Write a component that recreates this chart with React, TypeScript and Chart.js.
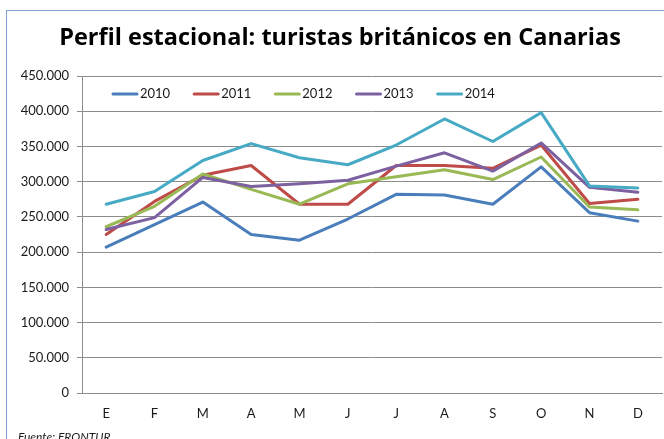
import React, { useEffect, useRef } from 'react';
import { Chart, registerables } from 'chart.js';

Chart.register(...registerables);

const months = ['E', 'F', 'M', 'A', 'M', 'J', 'J', 'A', 'S', 'O', 'N', 'D'];
const years = ['2010', '2011', '2012', '2013', '2014'];
const s2010 = [207000, 239000, 271000, 225000, 217000, 247000, 282000, 281000, 268000, 321000, 256000, 244000];
const s2011 = [225000, 272000, 309000, 323000, 268000, 268000, 323000, 323000, 319000, 352000, 269000, 275000];
const s2012 = [236000, 265000, 311000, 289000, 268000, 297000, 307000, 317000, 303000, 335000, 264000, 260000];
const s2013 = [232000, 249000, 306000, 293000, 297000, 302000, 322000, 341000, 315000, 355000, 292000, 285000];
const s2014 = [268000, 286000, 330000, 354000, 334000, 324000, 352000, 389000, 357000, 398000, 294000, 291000];
const seriesValues = [s2010, s2011, s2012, s2013, s2014];
const colors = ['#4A7EBB', '#BE4B48', '#98B954', '#7D60A0', '#46AAC5'];
const yMin = 0;
const yMax = 450000;
const yStep = 50000;
const titleText = 'Perfil estacional: turistas británicos en Canarias';
const sourceText = 'Fuente: FRONTUR';

const fmt = (v: number) => {
  const s = Math.round(v).toString();
  return s.replace(/\B(?=(\d{3})+(?!\d))/g, '.');
};

// Legend drawn inside the plot area, in one row, like the original
const insideLegend = {
  id: 'insideLegend',
  afterDraw(chart: any) {
    const ctx = chart.ctx;
    const area = chart.chartArea;
    const lineLen = 24;
    const textGap = 3;
    const itemGap = 24;
    let x = area.left + 31;
    const y = area.top + 18;
    ctx.save();
    ctx.font = '13px Lato';
    ctx.textBaseline = 'middle';
    ctx.textAlign = 'left';
    chart.data.datasets.forEach((ds: any) => {
      ctx.strokeStyle = ds.borderColor;
      ctx.lineWidth = 3;
      ctx.lineCap = 'round';
      ctx.beginPath();
      ctx.moveTo(x, y);
      ctx.lineTo(x + lineLen, y);
      ctx.stroke();
      ctx.fillStyle = '#1a1a1a';
      ctx.fillText(ds.label, x + lineLen + textGap, y);
      const w = ctx.measureText(ds.label).width;
      x += lineLen + textGap + w + itemGap;
    });
    ctx.restore();
  },
};

export default function App() {
  const ref = useRef<HTMLCanvasElement | null>(null);

  useEffect(() => {
    if (!ref.current) return;
    const chart = new Chart(ref.current, {
      type: 'line',
      data: {
        labels: months,
        datasets: years.map((y, i) => ({
          label: y,
          data: seriesValues[i],
          borderColor: colors[i],
          backgroundColor: colors[i],
          borderWidth: 3,
          pointRadius: 0,
          pointHoverRadius: 0,
          tension: 0,
          fill: false,
          borderJoinStyle: 'round',
          borderCapStyle: 'round',
          order: years.length - i,
        })),
      },
      options: {
        responsive: false,
        animation: false,
        layout: { padding: { left: 18, right: 2, top: 0, bottom: 6 } },
        plugins: {
          title: {
            display: true,
            text: titleText,
            color: '#000000',
            font: { family: 'Open Sans', size: 23.5, weight: 'bold', lineHeight: 1.2 },
            padding: { top: 24.5, bottom: 23.3 },
          },
          legend: { display: false },
          tooltip: { enabled: false },
        },
        scales: {
          x: {
            offset: true,
            afterFit: (scale: any) => {
              scale.height = 40;
            },
            grid: { display: false },
            border: { display: true, color: '#8c8c8c', width: 1 },
            ticks: {
              color: '#1a1a1a',
              font: { family: 'Lato', size: 13 },
              padding: 5,
              maxRotation: 0,
              autoSkip: false,
            },
          },
          y: {
            min: yMin,
            max: yMax,
            afterFit: (scale: any) => {
              scale.width = 64;
            },
            grid: { color: '#8c8c8c', lineWidth: 1, tickLength: 5, drawTicks: true },
            border: { display: true, color: '#8c8c8c', width: 1 },
            ticks: {
              stepSize: yStep,
              color: '#1a1a1a',
              font: { family: 'Lato', size: 13 },
              padding: 8,
              callback: (v: any) => fmt(Number(v)),
            },
          },
        },
      },
      plugins: [insideLegend],
    } as any);
    return () => chart.destroy();
  }, []);

  return (
    <div
      style={{
        position: 'fixed',
        left: 0,
        top: 0,
        width: 664,
        height: 439,
        background: '#ffffff',
        overflow: 'hidden',
      }}
    >
      <div
        style={{
          position: 'absolute',
          left: 6,
          top: 10,
          width: 700,
          height: 500,
          borderLeft: '1px solid #7FA3D3',
          borderTop: '1px solid #7FA3D3',
        }}
      />
      <canvas ref={ref} width={664} height={439} style={{ position: 'absolute', left: 0, top: 0, width: 664, height: 439 }} />
      <div
        style={{
          position: 'absolute',
          left: 18,
          top: 430,
          fontFamily: 'Lato',
          fontStyle: 'italic',
          fontSize: 12,
          lineHeight: '14px',
          color: '#1a1a1a',
          whiteSpace: 'nowrap',
        }}
      >
        {sourceText}
      </div>
    </div>
  );
}
